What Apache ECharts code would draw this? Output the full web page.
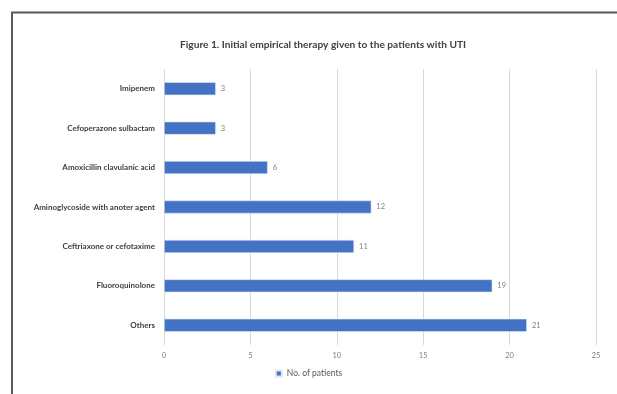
<!DOCTYPE html>
<html>
<head>
<meta charset="utf-8">
<script src="https://cdn.jsdelivr.net/npm/echarts@6/dist/echarts.min.js"></script>
<style>
  html, body { margin: 0; padding: 0; background: #fff; }
  #chart { width: 617px; height: 394px; }
</style>
</head>
<body>
<div id="chart"></div>
<script>
// data (top to bottom as drawn)
const categories = [
  'Imipenem',
  'Cefoperazone sulbactam',
  'Amoxicillin clavulanic acid',
  'Aminoglycoside with anoter agent',
  'Ceftriaxone or cefotaxime',
  'Fluoroquinolone',
  'Others'
]
const patients = [3, 3, 6, 12, 11, 19, 21]
const seriesName = 'No. of patients'
const titleText = 'Figure 1. Initial empirical therapy given to the patients with UTI'

const fontFamily = 'Lato, "Open Sans", sans-serif'
const chart = echarts.init(document.getElementById('chart'))

const option = {
  backgroundColor: '#fff',
  animation: false,
  title: {
    text: titleText,
    left: 318,
    textAlign: 'center',
    top: 35,
    textStyle: {
      fontFamily: fontFamily,
      fontSize: 10.2,
      fontWeight: 'bold',
      color: '#404040'
    }
  },
  grid: {
    left: 164,
    right: 21,
    top: 69,
    bottom: 49
  },
  legend: {
    data: [seriesName],
    bottom: 11,
    left: 'center',
    itemWidth: 6,
    itemHeight: 6,
    itemGap: 4,
    icon: 'rect',
    textStyle: {
      fontFamily: fontFamily,
      fontSize: 8.5,
      color: '#595959'
    }
  },
  xAxis: {
    type: 'value',
    min: 0,
    max: 25,
    interval: 5,
    axisLine: { show: false },
    axisTick: { show: false },
    axisLabel: {
      margin: 7,
      fontFamily: fontFamily,
      fontSize: 7.5,
      color: '#7f7f7f'
    },
    splitLine: {
      lineStyle: { color: '#d9d9d9', width: 1 }
    }
  },
  yAxis: {
    type: 'category',
    data: categories,
    inverse: true,
    axisLine: { show: false },
    axisTick: { show: false },
    axisLabel: {
      margin: 9,
      fontFamily: fontFamily,
      fontSize: 8,
      fontWeight: 'bold',
      color: '#404040'
    }
  },
  series: [
    {
      name: seriesName,
      type: 'bar',
      data: patients,
      barWidth: 13,
      itemStyle: {
        color: '#4472c4',
        borderColor: '#dfe7f5',
        borderWidth: 0.6
      },
      label: {
        show: true,
        position: 'right',
        distance: 5,
        fontFamily: fontFamily,
        fontSize: 7.5,
        color: '#7f7f7f'
      }
    }
  ],
  graphic: [
    {
      type: 'polyline',
      silent: true,
      shape: { points: [[12, 394], [12, 12.5], [617, 12.5]] },
      style: { stroke: '#595959', lineWidth: 2, fill: null }
    }
  ]
}
chart.setOption(option)
</script>
</body>
</html>
